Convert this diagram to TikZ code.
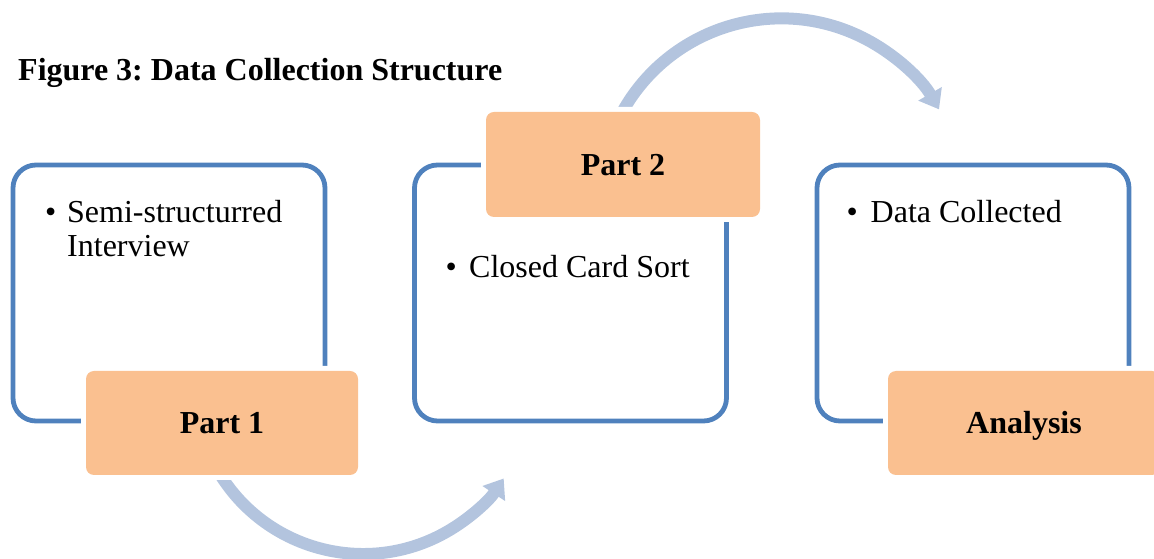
\documentclass[tikz,border=0pt]{standalone}
\usepackage{fontspec}
\setmainfont{Liberation Serif}
\usetikzlibrary{arrows.meta}
\definecolor{boxblue}{HTML}{4F81BD}
\definecolor{partorange}{HTML}{FAC090}
\definecolor{arrowblue}{HTML}{B3C4DE}
\frenchspacing
\begin{document}
\begin{tikzpicture}[x=1pt,y=1pt,
  outline/.style={rectangle, draw=boxblue, line width=4.8pt, rounded corners=23pt,
    minimum width=312pt, minimum height=256pt, inner sep=0pt},
  partbox/.style={rectangle, fill=partorange, rounded corners=8pt,
    minimum width=272pt, minimum height=104pt, inner sep=0pt,
    text height=22pt, text depth=0pt,
    font=\fontsize{32}{34}\selectfont\bfseries,
    preaction={draw=white, line width=10pt}},
  bodytext/.style={anchor=base west, inner sep=0pt, font=\fontsize{32}{34}\selectfont},
  curvearrow/.style={draw=arrowblue, line width=12pt,
    -{Triangle[length=18pt,width=26pt]}}
]
\useasboundingbox (0,0) rectangle (1154,559);

% title
\node[anchor=base west, inner sep=0pt, font=\fontsize{32}{34}\selectfont\bfseries] (title) at (18,478) {Figure 3: Data Collection Structure};

% outline boxes
\node[outline] (box1) at (169,266) {};
\node[outline] (box2) at (570.5,266) {};
\node[outline] (box3) at (973,266) {};

% curved arrows
\coordinate (c1) at (363.2,173.5);
\coordinate (c2) at (781.4,358.6);
\draw[curvearrow] ([shift={(210:168.5)}]c1) arc[start angle=210, end angle=326.5, radius=168.5];
\draw[curvearrow] ([shift={(152:182)}]c2) arc[start angle=152, end angle=30, radius=182];

% orange label boxes
\node[partbox] (part1) at (222,136) {Part 1};
\node[partbox, minimum width=274pt, minimum height=105pt] (part2) at (623,394.5) {Part 2};
\node[partbox] (analysis) at (1024,136) {Analysis};

% bullet texts
\node[bodytext] (b1) at (45,336) {\textbullet};
\node[bodytext] (t1a) at (67,336) {Semi-structurred};
\node[bodytext] (t1b) at (67,302.5) {Interview};
\node[bodytext] (b2) at (445.5,281) {\textbullet};
\node[bodytext] (t2) at (469,281) {Closed Card Sort};
\node[bodytext] (b3) at (846.5,336) {\textbullet};
\node[bodytext] (t3) at (870.5,336) {Data Collected};
\end{tikzpicture}
\end{document}
